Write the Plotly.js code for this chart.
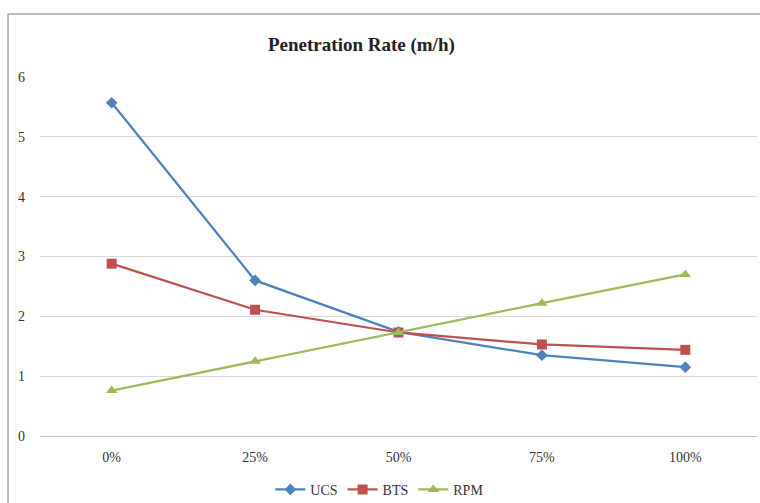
<!DOCTYPE html>
<html><head><meta charset="utf-8">
<script src="https://cdn.plot.ly/plotly-3.0.1.min.js"></script>
<style>html,body{margin:0;padding:0;background:#fff}#chart{width:760px;height:503px}</style>
</head><body><div id="chart"></div>
<script>
const categories = ["0%", "25%", "50%", "75%", "100%"];
const ucs = [5.57, 2.60, 1.74, 1.35, 1.15];
const bts = [2.88, 2.11, 1.73, 1.53, 1.44];
const rpm = [0.76, 1.25, 1.73, 2.22, 2.70];
const yTicks = [0, 1, 2, 3, 4, 5, 6];

const F = "Liberation Serif, Times New Roman, serif";
function tr(name, y, color, sym, size){
  return {type:'scatter', mode:'lines+markers', name:name, x:categories, y:y,
    line:{color:color, width:2.25}, marker:{symbol:sym, size:size, color:color}};
}
const data = [
  tr('UCS', ucs, '#4f81bd', 'diamond', 9),
  tr('BTS', bts, '#c0504d', 'square', 10),
  tr('RPM', rpm, '#9bbb59', 'triangle-up', 10)
];
const layout = {
  width:760, height:503,
  margin:{l:40, r:3, t:77, b:67, autoexpand:false},
  paper_bgcolor:'#fff', plot_bgcolor:'#fff',
  font:{family:F, size:14, color:'#333'},
  showlegend:true,
  legend:{orientation:'h', x:0.474, xanchor:'center', y:-0.15, yanchor:'middle',
    font:{family:F, size:14, color:'#333'}, itemwidth:30, tracegroupgap:0},
  xaxis:{type:'category', range:[-0.5, 4.5], showgrid:false, zeroline:false, showline:false,
    ticks:'', ticklabelstandoff:11, tickfont:{family:F, size:14, color:'#333'}},
  yaxis:{range:[0,6], tickvals:yTicks, ticktext:yTicks.map(String), showgrid:true,
    gridcolor:'#d9d9d9', gridwidth:1, zeroline:true, zerolinecolor:'#bfbfbf', zerolinewidth:1,
    showline:false, ticks:'', ticklabelstandoff:14, tickfont:{family:F, size:14, color:'#333'}},
  annotations:[{text:'<b>Penetration Rate (m/h)</b>', xref:'paper', yref:'paper',
    x:0.449, y:1.089, xanchor:'center', yanchor:'middle', showarrow:false,
    font:{family:F, size:19, color:'#222'}}],
  shapes:[{type:'rect', xref:'paper', yref:'paper', x0:-0.0446, x1:1.2, y0:-0.4, y1:1.1755,
    line:{color:'#a6a6a6', width:1.5}, fillcolor:'rgba(0,0,0,0)'}]
};
Plotly.newPlot('chart', data, layout, {displayModeBar:false, staticPlot:true});
</script></body></html>
